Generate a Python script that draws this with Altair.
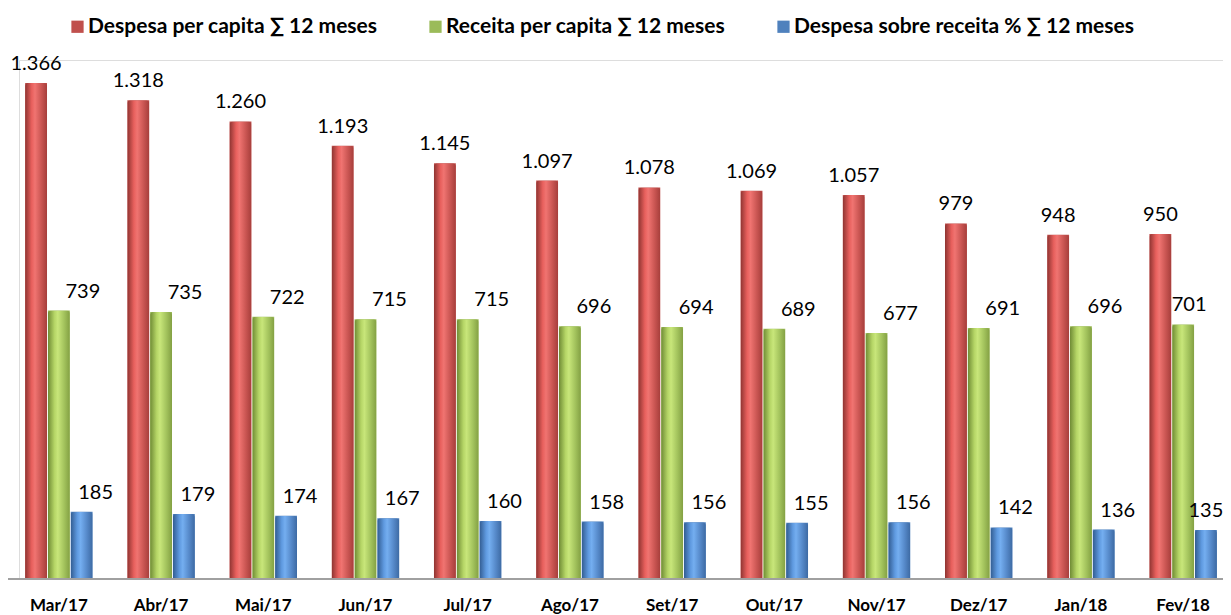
import altair as alt
import pandas as pd

months = ["Mar/17", "Abr/17", "Mai/17", "Jun/17", "Jul/17", "Ago/17",
          "Set/17", "Out/17", "Nov/17", "Dez/17", "Jan/18", "Fev/18"]
despesa = [1366, 1318, 1260, 1193, 1145, 1097, 1078, 1069, 1057, 979, 948, 950]
receita = [739, 735, 722, 715, 715, 696, 694, 689, 677, 691, 696, 701]
razao = [185, 179, 174, 167, 160, 158, 156, 155, 156, 142, 136, 135]

series = ["Despesa per capita \u2211 12 meses",
          "Receita per capita \u2211 12 meses",
          "Despesa sobre receita % \u2211 12 meses"]
colors = ["#C0504D", "#9BBB59", "#4F81BD"]
gradients = [
    ["#8E3431", "#E8605D", "#F07471", "#C95552", "#A63E3B"],
    ["#6F8B35", "#B5D566", "#C8E67A", "#A2C25C", "#83A043"],
    ["#325C91", "#5F9AE0", "#74AEF0", "#5588C8", "#3D6AA3"],
]
label_dx = [0, 24, 14]
label_dx_last = [0, 6, 0]

rows = []
for i, m in enumerate(months):
    for s, vals in zip(series, [despesa, receita, razao]):
        rows.append({"mes": m, "serie": s, "valor": vals[i]})
df = pd.DataFrame(rows)

FONT = "Lato"
W, H = 1204, 519
PAD_L = 11
LAST = months[-1]

x = alt.X("mes:N", sort=months, title=None,
          scale=alt.Scale(paddingInner=0.34, paddingOuter=0.06),
          axis=alt.Axis(labelFont=FONT, labelFontSize=17, labelFontWeight="bold",
                        labelColor="#000", labelAngle=0, labelPadding=18, ticks=False,
                        domain=False))
y = alt.Y("valor:Q", title=None, scale=alt.Scale(domain=[0, 1429], nice=False),
          axis=None)
xo = alt.XOffset("serie:N", sort=series, scale=alt.Scale(domain=series, paddingInner=0.04))

base = alt.Chart(df).mark_bar().encode(
    x=x, y=y, xOffset=xo,
    color=alt.Color("serie:N", sort=series,
                    scale=alt.Scale(domain=series, range=colors),
                    legend=alt.Legend(title=None, orient="none", direction="horizontal",
                                      legendX=48, legendY=-44, symbolType="square",
                                      symbolSize=150, symbolStrokeWidth=0,
                                      labelFont=FONT, labelFontSize=21,
                                      labelFontWeight="bold", labelColor="#000",
                                      columnPadding=47, padding=0, labelLimit=500,
                                      labelOffset=0))
)

axis_line = alt.Chart(pd.DataFrame({"v": [0]})).mark_rule(
    color="#A0A0A0", strokeWidth=2
).encode(y=alt.Y("v:Q", scale=alt.Scale(domain=[0, 1429], nice=False), axis=None),
         x=alt.value(-PAD_L), x2=alt.value(W + 10))

layers = [base]
for s, g, dx, dxl in zip(series, gradients, label_dx, label_dx_last):
    n = len(g)
    stops = [{"offset": k / (n - 1), "color": c} for k, c in enumerate(g)]
    stops[1]["offset"] = 0.3
    stops[2]["offset"] = 0.45
    stops[3]["offset"] = 0.75
    grad = {"gradient": "linear", "x1": 0, "y1": 0, "x2": 1, "y2": 0, "stops": stops}
    sub = alt.Chart(df).transform_filter(alt.datum.serie == s)
    layers.append(sub.mark_bar(fill=grad, cornerRadiusTopLeft=3,
                               cornerRadiusTopRight=3).encode(x=x, y=y, xOffset=xo))
    lab = sub.transform_calculate(lbl="replace(format(datum.valor, ','), ',', '.')")
    layers.append(
        lab.transform_filter(alt.datum.mes != LAST)
        .mark_text(font=FONT, fontSize=20, color="#000", baseline="bottom",
                   dy=-9, dx=dx)
        .encode(x=x, y=y, xOffset=xo, text="lbl:N")
    )
    layers.append(
        lab.transform_filter(alt.datum.mes == LAST)
        .mark_text(font=FONT, fontSize=20, color="#000", baseline="bottom",
                   dy=-9, dx=dxl)
        .encode(x=x, y=y, xOffset=xo, text="lbl:N")
    )
layers.append(axis_line)

chart = alt.layer(*layers).properties(
    width=W, height=H,
    autosize=alt.AutoSizeParams(type="none"),
    padding={"left": PAD_L, "right": 0, "top": 52, "bottom": 36},
).configure_view(stroke=None).configure(background="white")

chart.save("out.html", embed_options={"renderer": "svg", "actions": False})
